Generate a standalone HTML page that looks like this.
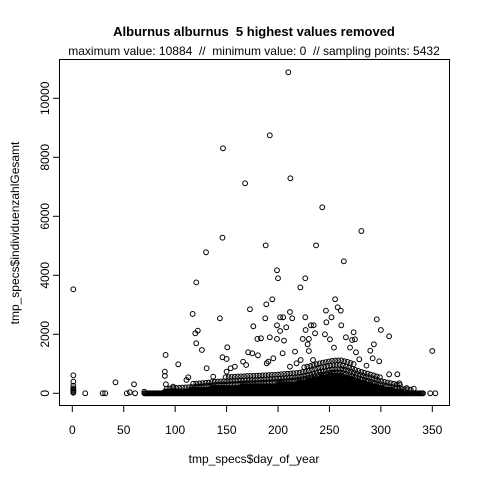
<!DOCTYPE html>
<html><head><meta charset="utf-8"><style>
body{margin:0;background:#fff}
svg{display:block;font-family:"Liberation Sans",Arial,sans-serif}
text{white-space:pre}
</style></head><body>
<svg id="chart" width="480" height="480" xmlns="http://www.w3.org/2000/svg">
<rect width="480" height="480" fill="#fff"/>
<text x="254" y="36" text-anchor="middle" font-size="13" font-weight="bold">Alburnus alburnus  5 highest values removed</text>
<text x="254" y="55" text-anchor="middle" font-size="12">maximum value: 10884  //  minimum value: 0  // sampling points: 5432</text>
<rect x="59.5" y="59.5" width="390" height="346" fill="none" stroke="#000"/>
<g id="xaxis"></g>
<g id="yaxis"></g>
<text x="254" y="463" text-anchor="middle" font-size="12">tmp_specs$day_of_year</text>
<text transform="translate(19,233) rotate(-90)" text-anchor="middle" font-size="12">tmp_specs$individuenzahlGesamt</text>
<g id="band"></g>
<g id="pts"></g>
</svg>
<script>
const xTicks=[0,50,100,150,200,250,300,350];
const yTicks=[0,2000,4000,6000,8000,10000];
const envDays=[70,80,90,100,110,120,130,140,150,160,170,180,190,200,210,220,230,240,245,250,255,260,265,270,280,290,300,310,320,330,340];
const envVals=[30,50,60,90,110,130,160,200,210,230,250,260,280,300,330,360,430,530,560,600,620,620,580,520,400,300,200,130,60,30,0];
const sparseVals=[60,100,150,250,300,350,420,500,550,600,650,650,700,700,800,850,950,1050,1100,1150,1200,1200,1150,1050,850,700,550,400,250,120,40];
const ptDays=[210,192,146.5,168,212,243,281,146,188,237,130,264,199,200,226.5,120.5,1,221.7,
117,120.5,122,119.6,126,143.5,150.7,146,150,172.7,176,171,175,180,183.4,180.5,188.6,194.4,187.6,192,195.4,199,199,202,202,205,208,205.8,204.5,211.6,213.8,216.5,222,224,226.5,226.8,228.8,230,230,232,234.6,236,234,246.6,247,245.6,250.5,252,254.4,255.5,258,261,261.5,266,273.5,272,274.8,275.8,270,279,286,289.7,292,293.2,296,298.4,300,308,308,350,
90.7,90,90,91,103,98,112.8,42,60,12.6,29.5,32,53,56,61,70,325,332,341,348,353,318,316,
1,1,1,1,1,1,1,1,
154,158,166,169,189,190.6,211.6,218,130.6,137,150,111];
const ptVals=[10884,8745,8305,7119,7288,6305,5500,5275,5015,5015,4780,4475,4170,3900,3900,3760,3525,3590,
2690,1695,2124,2034,1469,2542,1560,1220,1164,2848,2271,1390,1356,1842,1865,1288,3017,3187,2542,1898,1186,2305,1842,2113,2576,2576,2237,1785,1356,2757,2542,1413,1130,1842,2576,2147,1661,1842,1435,2305,2305,2034,1130,2802,2407,2000,1830,2576,1548,3187,2915,2802,2305,1898,2068,1808,1830,1390,1548,1153,938,1446,1186,1661,2508,1085,2147,1932,644,1435,
1300,735,590,305,983,226,542,373,305,0,0,0,0,34,0,57,180,158,0,0,0,339,644,
610,395,260,170,90,20,50,130,
850,904,1074,960,1017,1074,904,1017,850,565,735,452];
const NS='http://www.w3.org/2000/svg';
const xs=d=>72.3+d*1.0286;
const ys=v=>393.3-v*0.0295;
const xa=document.getElementById('xaxis'),ya=document.getElementById('yaxis');
function mk(t,a){const e=document.createElementNS(NS,t);for(const k in a)e.setAttribute(k,a[k]);return e;}
xa.appendChild(mk('line',{x1:xs(0),x2:xs(350),y1:405.5,y2:405.5,stroke:'#000'}));
xTicks.forEach(t=>{
 const l=mk('line',{x1:xs(t),x2:xs(t),y1:405.5,y2:412,stroke:'#000'});
 
 
 xa.appendChild(l);
 const tx=mk('text',{x:xs(t),y:434,'text-anchor':'middle','font-size':12});
 
 
 tx.textContent=t;xa.appendChild(tx);
});
ya.appendChild(mk('line',{x1:59.5,x2:59.5,y1:ys(0),y2:ys(10000),stroke:'#000'}));
yTicks.forEach(t=>{
 const l=mk('line',{x1:53,x2:59.5,y1:ys(t),y2:ys(t),stroke:'#000'});
 
 
 ya.appendChild(l);
 const tx=mk('text',{transform:`translate(49,${ys(t)}) rotate(-90)`,'text-anchor':'middle','font-size':12});
 
 
 tx.textContent=t;ya.appendChild(tx);
});
const band=document.getElementById('band');
function interp(arr,d){for(let i=0;i<envDays.length-1;i++){if(d>=envDays[i]&&d<=envDays[i+1]){const f=(d-envDays[i])/(envDays[i+1]-envDays[i]);return arr[i]+f*(arr[i+1]-arr[i]);}}return 0;}
const first=envDays[0],last=envDays[envDays.length-1];
for(let d=first;d<=last;d+=1){
 const top=interp(envVals,d);
 for(let v=0;v<=top;v+=60){
  const c=mk('circle',{cx:xs(d),cy:ys(v),r:2.4,fill:'none',stroke:'#000','stroke-width':1});
  
  
  band.appendChild(c);
 }
}
for(let d=first+1;d<=last;d+=3){
 const lo=interp(envVals,d),hi=interp(sparseVals,d);
 for(let v=lo+90,k=0;v<=hi;v+=110+k*25,k++){
  const c=mk('circle',{cx:xs(d+(k%2)*1.5),cy:ys(v),r:2.4,fill:'none',stroke:'#000','stroke-width':1});
  
  
  band.appendChild(c);
 }
}
const pts=document.getElementById('pts');
ptDays.forEach((d,i)=>{
 const c=mk('circle',{cx:xs(d),cy:ys(ptVals[i]),r:2.4,fill:'none',stroke:'#000','stroke-width':1});
 
 
 pts.appendChild(c);
});
</script>
</body></html>
